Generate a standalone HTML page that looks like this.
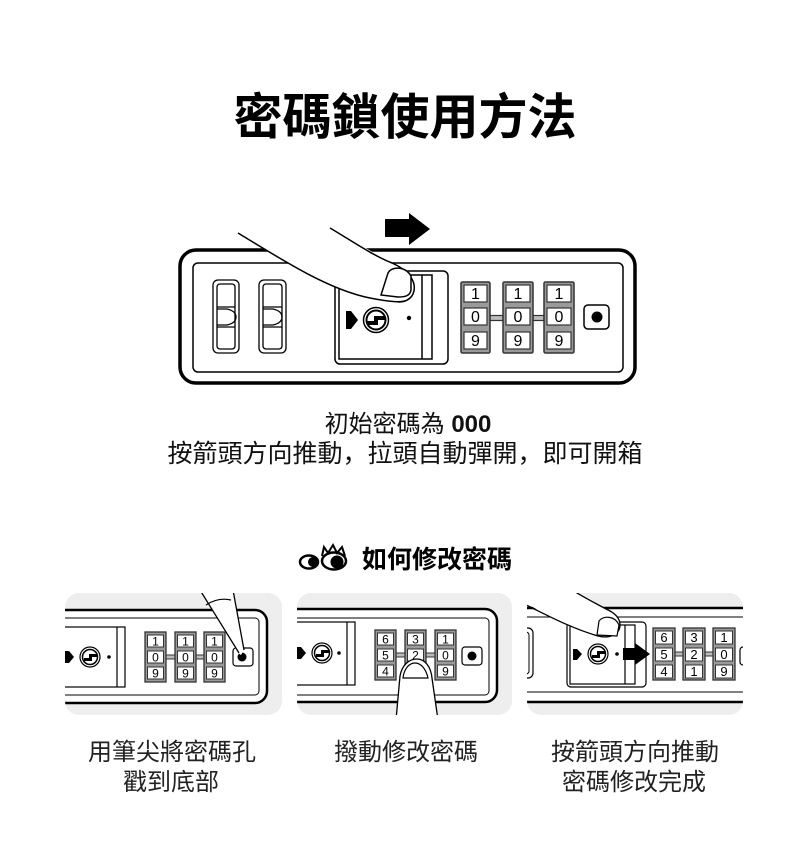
<!DOCTYPE html>
<html><head><meta charset="utf-8">
<style>
html,body{margin:0;padding:0;background:#fff;}
svg{display:block;}
text{font-family:"Liberation Sans","Noto Sans CJK TC",sans-serif;}
.jp{font-family:"Noto Sans CJK JP",sans-serif;}
</style></head><body>
<svg width="800" height="850" viewBox="0 0 800 850" xmlns="http://www.w3.org/2000/svg">
<rect width="800" height="850" fill="#fff"/>
<defs>
<clipPath id="c1"><rect x="65" y="593" width="217" height="122" rx="14"/></clipPath>
<clipPath id="c2"><rect x="297" y="593" width="215" height="122" rx="14"/></clipPath>
<clipPath id="c3"><rect x="527" y="593" width="216" height="122" rx="14"/></clipPath>
</defs>

<text x="405" y="134" font-size="49" font-weight="bold" text-anchor="middle" fill="#000">密碼鎖使用方法</text>

<!-- big arrow -->
<polygon points="385,219 409,219 409,213 430,229 409,245 409,237 385,237" fill="#000"/>

<!-- main lock -->
<rect x="180" y="250" width="455" height="133" rx="16" fill="#fff" stroke="#000" stroke-width="3.5"/>
<rect x="193" y="263" width="430" height="109" rx="5" fill="none" stroke="#000" stroke-width="1.5"/>

<g fill="none" stroke="#000" stroke-width="1.3">
<rect x="213" y="280" width="26" height="73" rx="5"/>
<rect x="217" y="284" width="18" height="65" rx="3"/>
<line x1="217" y1="307" x2="235" y2="307"/>
<line x1="217" y1="327" x2="235" y2="327"/>
<path d="M217,309 H227 Q236,311 236,317 Q236,323 227,325 H217"/>
<rect x="259" y="280" width="27" height="73" rx="5"/>
<rect x="263" y="284" width="19" height="65" rx="3"/>
<line x1="263" y1="307" x2="282" y2="307"/>
<line x1="263" y1="327" x2="282" y2="327"/>
<path d="M263,309 H273 Q282,311 282,317 Q282,323 273,325 H263"/>
</g>

<rect x="335" y="271" width="113" height="93" rx="5" fill="#fff" stroke="#000" stroke-width="1.5"/>
<rect x="339" y="275" width="93" height="84" fill="none" stroke="#000" stroke-width="1.5"/>
<line x1="422" y1="275" x2="422" y2="359" stroke="#000" stroke-width="1.5"/>
<circle cx="376" cy="320" r="12.5" fill="#fff" stroke="#000" stroke-width="1.5"/>
<circle cx="376" cy="320" r="9.5" fill="#fff" stroke="#000" stroke-width="2"/>
<path d="M367,321 H374 V316 H385 V320 H378 V325 H367 Z" fill="#000"/>
<polygon points="346,311 351,311 358,320 351,329 346,329" fill="#000"/>
<circle cx="409" cy="318" r="2.2" fill="#000"/>

<!-- finger main -->
<path d="M238,233 C287,263 330,290 370,298 C385,301 400,303 407,300 C415,296 417,286 412,278 C407,270 398,266 390,262 C370,250 350,240 330,228 Z" fill="#fff"/>
<path d="M238,233 C287,263 330,290 370,298 C385,301 398,303 405,301" fill="none" stroke="#000" stroke-width="1.5"/>
<path d="M330,228 C352,241 372,255 392,263 C408,270 418,282 413,294 C410,300 404,302 398,302" fill="none" stroke="#000" stroke-width="1.5"/>
<path d="M381,295 L388,273 C392,266 405,266 411,276 L411,290 C410,296 405,297 398,297 Z" fill="#fff" stroke="#000" stroke-width="1.5"/>

<!-- wheels main -->
<g stroke="#333" stroke-width="1.2">
<rect x="490" y="315.5" width="13" height="5" fill="#bbb"/>
<rect x="533" y="315.5" width="11" height="5" fill="#bbb"/>
<rect x="461" y="282" width="29" height="71" rx="1.5" fill="#9a9a9a" stroke-width="1.5"/>
<rect x="503" y="282" width="30" height="71" rx="1.5" fill="#9a9a9a" stroke-width="1.5"/>
<rect x="544" y="282" width="30" height="71" rx="1.5" fill="#9a9a9a" stroke-width="1.5"/>
<g fill="#fff">
<rect x="464" y="285" width="23" height="17"/><rect x="464" y="308" width="23" height="17"/><rect x="464" y="332" width="23" height="17"/>
<rect x="506" y="285" width="24" height="17"/><rect x="506" y="308" width="24" height="17"/><rect x="506" y="332" width="24" height="17"/>
<rect x="547" y="285" width="24" height="17"/><rect x="547" y="308" width="24" height="17"/><rect x="547" y="332" width="24" height="17"/>
</g>
</g>
<g font-size="16" text-anchor="middle" fill="#000">
<text x="475.5" y="299">1</text><text x="475.5" y="322">0</text><text x="475.5" y="346">9</text>
<text x="518" y="299">1</text><text x="518" y="322">0</text><text x="518" y="346">9</text>
<text x="559" y="299">1</text><text x="559" y="322">0</text><text x="559" y="346">9</text>
</g>
<rect x="584" y="305" width="25" height="24" rx="4" fill="#fff" stroke="#000" stroke-width="1.5"/>
<circle cx="597" cy="317" r="5.5" fill="#000"/>

<!-- texts -->
<text x="408" y="432" font-size="24" text-anchor="middle" fill="#111">初始密碼為 <tspan font-weight="bold">000</tspan></text>
<text x="405" y="462" font-size="25" text-anchor="middle" fill="#111">按箭頭方向推動<tspan class="jp">，</tspan>拉頭自動彈開<tspan class="jp">，</tspan>即可開箱</text>

<!-- icon -->
<g>
<ellipse cx="309" cy="562" rx="9" ry="6.5" fill="#fff" stroke="#000" stroke-width="2.5"/>
<circle cx="313" cy="562" r="5" fill="#000"/>
<ellipse cx="334" cy="561" rx="12" ry="8.5" fill="#fff" stroke="#000" stroke-width="2.5"/>
<circle cx="337" cy="562" r="6.5" fill="#000"/>
<path d="M322,556 L324,547 L328,553 L333,545 L337,553 L342,547 L345,556" fill="none" stroke="#000" stroke-width="2"/>
</g>
<text x="362" y="568" font-size="25" font-weight="bold" fill="#000">如何修改密碼</text>

<!-- panel backgrounds -->
<rect x="65" y="593" width="217" height="122" rx="14" fill="#eeeeee"/>
<rect x="297" y="593" width="215" height="122" rx="14" fill="#eeeeee"/>
<rect x="527" y="593" width="216" height="122" rx="14" fill="#eeeeee"/>

<!-- panel 1 -->
<g clip-path="url(#c1)">
<rect x="40" y="610" width="227" height="93" rx="12" fill="#fff" stroke="#000" stroke-width="2.5"/>
<rect x="40" y="618" width="219" height="77" rx="4" fill="none" stroke="#000" stroke-width="1"/>
<rect x="40" y="627" width="85" height="60" fill="#fff" stroke="#000" stroke-width="1.2"/>
<line x1="117" y1="627" x2="117" y2="687" stroke="#000" stroke-width="1.2"/>
<circle cx="90" cy="657" r="10" fill="#fff" stroke="#000" stroke-width="1.2"/>
<circle cx="90" cy="657" r="7.5" fill="#fff" stroke="#000" stroke-width="1.5"/>
<path d="M84,658 H89 V654 H97 V657 H92 V661 H84 Z" fill="#000"/>
<polygon points="65,651 69,651 74,657 69,663 65,663" fill="#000"/>
<circle cx="109" cy="657" r="1.8" fill="#000"/>
<g stroke="#333" stroke-width="1">
<rect x="166" y="655" width="9" height="4" fill="#bbb"/>
<rect x="196" y="655" width="8" height="4" fill="#bbb"/>
<rect x="145" y="632" width="21" height="50" fill="#9a9a9a" stroke-width="1.3"/>
<rect x="175" y="632" width="21" height="50" fill="#9a9a9a" stroke-width="1.3"/>
<rect x="204" y="632" width="21" height="50" fill="#9a9a9a" stroke-width="1.3"/>
<g fill="#fff">
<rect x="147.5" y="635" width="16" height="12"/><rect x="147.5" y="651" width="16" height="12"/><rect x="147.5" y="667" width="16" height="12"/>
<rect x="177.5" y="635" width="16" height="12"/><rect x="177.5" y="651" width="16" height="12"/><rect x="177.5" y="667" width="16" height="12"/>
<rect x="206.5" y="635" width="16" height="12"/><rect x="206.5" y="651" width="16" height="12"/><rect x="206.5" y="667" width="16" height="12"/>
</g>
</g>
<g font-size="12" text-anchor="middle" fill="#000">
<text x="155.5" y="645.5">1</text><text x="155.5" y="661.5">0</text><text x="155.5" y="677.5">9</text>
<text x="185.5" y="645.5">1</text><text x="185.5" y="661.5">0</text><text x="185.5" y="677.5">9</text>
<text x="214.5" y="645.5">1</text><text x="214.5" y="661.5">0</text><text x="214.5" y="677.5">9</text>
</g>
<rect x="233" y="648" width="20" height="18" rx="3" fill="#fff" stroke="#000" stroke-width="1.2"/>
<circle cx="242" cy="657" r="4.5" fill="#000"/>
<polygon points="200,590 233,590 244,650 241,655 238,653" fill="#fff"/>
<path d="M200,590 L239,653 M233,590 L244,650" fill="none" stroke="#000" stroke-width="1.3"/>
<path d="M206,605 Q218,597 231,600" fill="none" stroke="#000" stroke-width="1.2"/>
</g>

<!-- panel 2 -->
<g clip-path="url(#c2)">
<rect x="270" y="609" width="227" height="93" rx="12" fill="#fff" stroke="#000" stroke-width="2.5"/>
<rect x="270" y="618" width="219" height="77" rx="4" fill="none" stroke="#000" stroke-width="1"/>
<rect x="270" y="622" width="85" height="63" fill="#fff" stroke="#000" stroke-width="1.2"/>
<line x1="347" y1="622" x2="347" y2="685" stroke="#000" stroke-width="1.2"/>
<circle cx="322" cy="653" r="10" fill="#fff" stroke="#000" stroke-width="1.2"/>
<circle cx="322" cy="653" r="7.5" fill="#fff" stroke="#000" stroke-width="1.5"/>
<path d="M316,654 H321 V650 H329 V653 H324 V657 H316 Z" fill="#000"/>
<polygon points="297,647 301,647 306,653 301,659 297,659" fill="#000"/>
<circle cx="339" cy="653" r="1.8" fill="#000"/>
<g stroke="#333" stroke-width="1">
<rect x="396" y="653" width="9" height="4" fill="#bbb"/>
<rect x="426" y="653" width="9" height="4" fill="#bbb"/>
<rect x="375" y="630" width="21" height="50" fill="#9a9a9a" stroke-width="1.3"/>
<rect x="405" y="630" width="21" height="50" fill="#9a9a9a" stroke-width="1.3"/>
<rect x="435" y="630" width="21" height="50" fill="#9a9a9a" stroke-width="1.3"/>
<g fill="#fff">
<rect x="377.5" y="633" width="16" height="12"/><rect x="377.5" y="649" width="16" height="12"/><rect x="377.5" y="665" width="16" height="12"/>
<rect x="407.5" y="633" width="16" height="12"/><rect x="407.5" y="649" width="16" height="12"/><rect x="407.5" y="665" width="16" height="12"/>
<rect x="437.5" y="633" width="16" height="12"/><rect x="437.5" y="649" width="16" height="12"/><rect x="437.5" y="665" width="16" height="12"/>
</g>
</g>
<g font-size="12" text-anchor="middle" fill="#000">
<text x="385.5" y="643.5">6</text><text x="385.5" y="659.5">5</text><text x="385.5" y="675.5">4</text>
<text x="415.5" y="643.5">3</text><text x="415.5" y="659.5">2</text><text x="415.5" y="675.5">1</text>
<text x="445.5" y="643.5">1</text><text x="445.5" y="659.5">0</text><text x="445.5" y="675.5">9</text>
</g>
<rect x="462" y="647" width="20" height="18" rx="3" fill="#fff" stroke="#000" stroke-width="1.2"/>
<circle cx="472" cy="656" r="4.5" fill="#000"/>
<path d="M396,720 L400,676 C402,665 409,659 417,659 C425,659 431,667 432,678 L438,720 Z" fill="#fff" stroke="#000" stroke-width="1.3"/>
<path d="M403,678 C404,669 409,663 415,663 C421,663 426,669 428,678 Z" fill="#fff" stroke="#000" stroke-width="1.2"/>
</g>

<!-- panel 3 -->
<g clip-path="url(#c3)">
<rect x="480" y="608" width="300" height="94" fill="#fff" stroke="#000" stroke-width="2.5"/>
<rect x="480" y="617" width="300" height="75" fill="none" stroke="#000" stroke-width="1"/>
<rect x="505" y="628" width="28" height="50" rx="5" fill="none" stroke="#000" stroke-width="1.2"/>
<rect x="500" y="632" width="29" height="42" rx="3" fill="none" stroke="#000" stroke-width="1"/>
<rect x="740" y="647" width="20" height="18" rx="3" fill="#fff" stroke="#000" stroke-width="1.2"/>
<rect x="567" y="622" width="79" height="65" rx="4" fill="#fff" stroke="#000" stroke-width="1.2"/>
<rect x="570" y="625" width="65" height="59" fill="none" stroke="#000" stroke-width="1.2"/>
<line x1="625" y1="625" x2="625" y2="684" stroke="#000" stroke-width="1.2"/>
<circle cx="598" cy="654" r="10" fill="#fff" stroke="#000" stroke-width="1.2"/>
<circle cx="598" cy="654" r="7.5" fill="#fff" stroke="#000" stroke-width="1.5"/>
<path d="M592,655 H597 V651 H605 V654 H600 V658 H592 Z" fill="#000"/>
<polygon points="573,649 577,649 582,654 577,660 573,660" fill="#000"/>
<circle cx="617" cy="654" r="1.8" fill="#000"/>
<polygon points="623,648 635,648 635,643 650,654 635,665 635,660 623,660" fill="#000"/>
<g stroke="#333" stroke-width="1">
<rect x="675" y="652" width="8" height="4" fill="#bbb"/>
<rect x="705" y="652" width="8" height="4" fill="#bbb"/>
<rect x="653" y="628" width="22" height="52" fill="#9a9a9a" stroke-width="1.3"/>
<rect x="683" y="628" width="22" height="52" fill="#9a9a9a" stroke-width="1.3"/>
<rect x="713" y="628" width="22" height="52" fill="#9a9a9a" stroke-width="1.3"/>
<g fill="#fff">
<rect x="655.5" y="631" width="17" height="13"/><rect x="655.5" y="648" width="17" height="13"/><rect x="655.5" y="665" width="17" height="13"/>
<rect x="685.5" y="631" width="17" height="13"/><rect x="685.5" y="648" width="17" height="13"/><rect x="685.5" y="665" width="17" height="13"/>
<rect x="715.5" y="631" width="17" height="13"/><rect x="715.5" y="648" width="17" height="13"/><rect x="715.5" y="665" width="17" height="13"/>
</g>
</g>
<g font-size="13" text-anchor="middle" fill="#000">
<text x="664" y="642">6</text><text x="664" y="659">5</text><text x="664" y="676">4</text>
<text x="694" y="642">3</text><text x="694" y="659">2</text><text x="694" y="676">1</text>
<text x="724" y="642">1</text><text x="724" y="659">0</text><text x="724" y="676">9</text>
</g>
<path d="M520,600 C545,614 570,628 598,636 C610,639 620,634 620,625 C620,617 613,612 606,609 C595,603 585,598 572,590 L520,590 Z" fill="#fff"/>
<path d="M520,602 C545,614 570,628 598,636 C610,639 620,634 620,625" fill="none" stroke="#000" stroke-width="1.3"/>
<path d="M572,590 C585,598 595,603 606,609 C613,612 620,617 620,625" fill="none" stroke="#000" stroke-width="1.3"/>
<path d="M597,635 L599,621 C604,615 615,616 619,625 L617,636 Z" fill="#fff" stroke="#000" stroke-width="1.2"/>
</g>

<!-- captions -->
<g font-size="24" text-anchor="middle" fill="#222">
<text x="172" y="760">用筆尖將密碼孔</text>
<text x="171" y="790">戳到底部</text>
<text x="406" y="760">撥動修改密碼</text>
<text x="635" y="760">按箭頭方向推動</text>
<text x="634" y="790">密碼修改完成</text>
</g>
</svg>
</body></html>
